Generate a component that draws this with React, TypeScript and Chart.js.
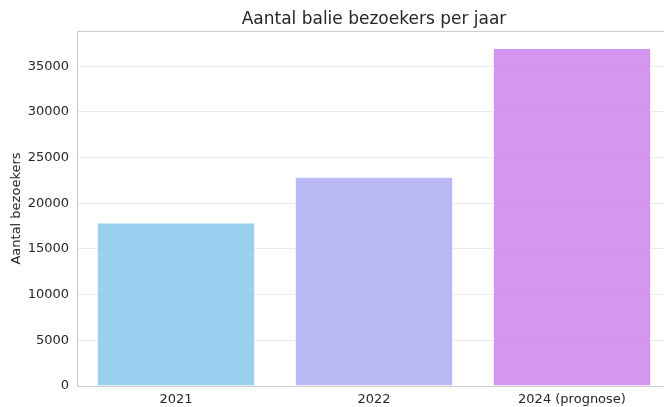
import React, { useEffect, useRef } from "react";
import { Chart, registerables } from "chart.js";

Chart.register(...registerables);

const categories = ["2021", "2022", "2024 (prognose)"];
const visitors = [17900, 22900, 37000];
const barColors = ["rgba(128,196,236,0.8)", "rgba(168,168,243,0.8)", "rgba(201,124,236,0.8)"];
const yTicks = [0, 5000, 10000, 15000, 20000, 25000, 30000, 35000];
const yMax = 38850;
const chartTitle = "Aantal balie bezoekers per jaar";
const yTitle = "Aantal bezoekers";

const FONT = "'DejaVu Sans', sans-serif";
const TEXT = "#262626";

const frame = {
  id: "frame",
  afterDraw(chart: any) {
    const { ctx, chartArea } = chart;
    ctx.save();
    ctx.strokeStyle = "#cccccc";
    ctx.lineWidth = 1;
    ctx.beginPath();
    ctx.moveTo(chartArea.left + 0.5, chartArea.bottom + 0.5);
    ctx.lineTo(chartArea.left + 0.5, chartArea.top + 0.5);
    ctx.lineTo(chartArea.right + 0.5, chartArea.top + 0.5);
    ctx.moveTo(chartArea.left + 0.5, chartArea.bottom + 0.5);
    ctx.lineTo(chartArea.right + 0.5, chartArea.bottom + 0.5);
    ctx.stroke();
    ctx.fillStyle = TEXT;
    ctx.font = `17px ${FONT}`;
    ctx.textAlign = "center";
    ctx.textBaseline = "middle";
    ctx.fillText(chartTitle, (chartArea.left + chartArea.right) / 2, 20);
    ctx.restore();
  },
};

export default function App() {
  const ref = useRef<HTMLCanvasElement>(null);
  useEffect(() => {
    document.body.style.margin = "0";
    document.body.style.overflow = "hidden";
    const chart = new Chart(ref.current!, {
      type: "bar",
      data: {
        labels: categories,
        datasets: [
          {
            data: visitors,
            backgroundColor: barColors,
            borderColor: "rgba(255,255,255,0.6)",
            borderWidth: 1,
            barPercentage: 0.8,
            categoryPercentage: 1,
          },
        ],
      },
      options: {
        responsive: false,
        animation: false,
        layout: { padding: { left: 0, right: 9, top: 31, bottom: 0 } },
        plugins: {
          legend: { display: false },
          tooltip: { enabled: false },
          title: { display: false },
        },
        scales: {
          x: {
            offset: true,
            grid: { display: false, drawTicks: false },
            border: { display: false },
            ticks: { color: TEXT, font: { family: FONT, size: 13 }, padding: 6 },
            afterFit: (s: any) => {
              s.height = 21;
            },
          },
          y: {
            min: 0,
            max: yMax,
            grid: { color: "#ebebeb", drawTicks: false },
            border: { display: false },
            ticks: {
              color: TEXT,
              font: { family: FONT, size: 13 },
              padding: 8,
              callback: (v: any) => String(v),
            },
            afterBuildTicks: (s: any) => {
              s.ticks = yTicks.map((v) => ({ value: v }));
            },
            afterFit: (s: any) => {
              s.width = 77;
            },
            title: {
              display: true,
              text: yTitle,
              color: TEXT,
              font: { family: FONT, size: 13 },
              padding: { top: 9, bottom: 0 },
            },
          },
        },
      },
      plugins: [frame],
    });
    return () => chart.destroy();
  }, []);
  return <canvas ref={ref} width={680} height={407} style={{ display: "block" }} />;
}
